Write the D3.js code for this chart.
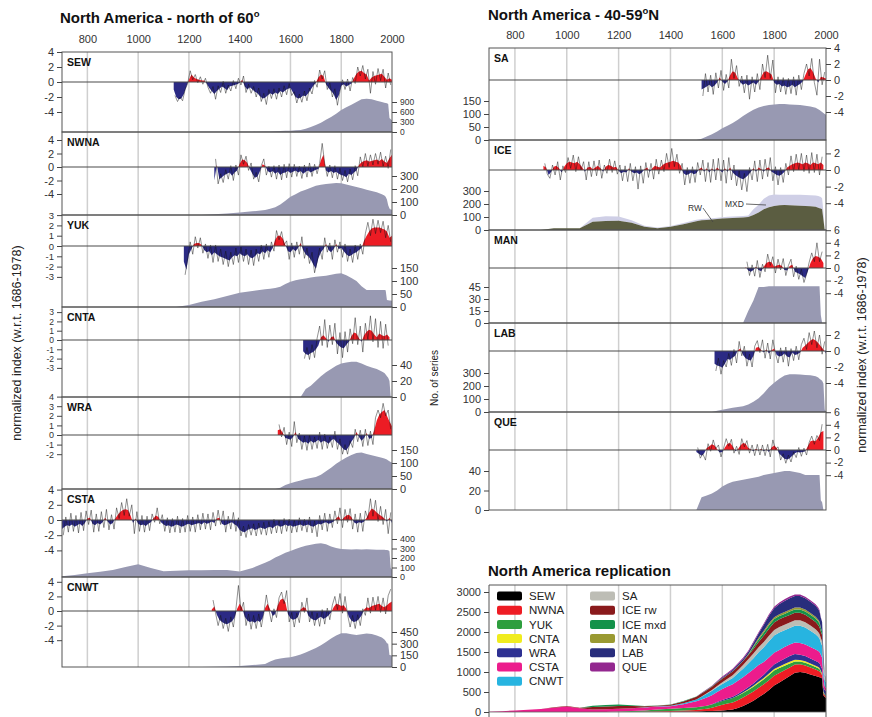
<!DOCTYPE html>
<html><head><meta charset="utf-8">
<script src="https://cdn.jsdelivr.net/npm/d3@7"></script>
<style>
body{margin:0;background:#fff;}
svg{display:block;font-family:"Liberation Sans",Arial,sans-serif;}
</style></head><body>
<svg id="chart" width="872" height="717"></svg>
<script>
// ================= DATA =================
const tickYears = [800, 1000, 1200, 1400, 1600, 1800, 2000];

// common year grid for "No. of series" counts
const countYears = [700,750,800,850,900,950,1000,1050,1100,1150,1200,1250,1300,1350,1400,1450,1500,
  1520,1540,1560,1580,1600,1620,1640,1660,1680,1700,1720,1740,1760,1780,1800,1820,1840,1860,1880,1900,1920,1940,1960,
  1970,1975,1980,1985,1990,1995,2000];

// ---- SEW ----
const sewStart = 1140; // smooth: every 10 yrs from start; raw: every 10 yrs from start+5
const sewSmooth = [-1.0,-2.0,-2.3,-2.2,-1.6,-0.6,
  0.3,1.0,0.6,0.4,0.3,0.2,0.2,-0.2,-0.8,-1.2,
  -1.6,-1.2,-0.9,-0.6,-0.8,-1.1,-0.6,-0.5,-0.4,-0.3,
  -0.1,0.3,-0.6,-1.0,-0.7,-1.0,-1.3,-1.5,-1.9,-2.2,
  -2.1,-1.8,-1.5,-1.7,-1.4,-1.6,-1.2,-1.4,-1.1,-0.9,
  -0.8,-1.4,-2.0,-2.2,-2.1,-1.8,-1.9,-1.5,-1.0,-0.5,
  -0.1,0.6,1.0,0.8,-0.3,-0.8,-1.2,-1.6,-2.4,-1.8,
  -0.5,-0.3,-0.6,-0.4,-0.2,0.5,1.1,1.4,1.5,1.2,
  1.0,0.2,0.6,0.8,0.9,1.0,1.1,0.7,0.3,0.5,0.3];
const sewRaw = [-1.8,-2.6,-2.0,-2.5,-1.0,-0.2,
  1.5,0.3,1.0,-0.1,0.7,-0.3,0.5,-0.7,-1.5,-0.6,
  -2.3,-0.5,-1.4,0.1,-1.5,-0.4,-1.2,0.2,-0.9,0.5,
  -0.4,0.8,-1.4,-0.3,-1.5,-0.6,-2.0,-0.8,-2.6,-1.5,
  -3.0,-1.0,-2.2,-0.9,-2.3,-0.8,-2.0,-0.5,-1.7,-0.2,
  -1.8,-1.3,-2.8,-1.6,-2.7,-1.2,-2.5,-0.8,-1.6,0.2,
  -0.7,1.6,0.4,1.5,-1.0,-0.1,-2.0,-0.9,-3.1,-1.2,
  0.3,-1.0,0.4,-1.2,0.6,-0.2,2.0,0.8,2.2,0.4,
  1.7,-1.5,1.4,-0.3,1.8,0.2,1.7,-0.8,1.2,-0.4];
const sewCount = [0,0,0,0,0,0,0,0,0,2,3,4,5,6,8,10,15,
  18,22,28,34,40,50,60,100,150,210,280,370,450,550,660,740,820,900,980,1000,980,940,900,
  880,870,860,840,420,380,350];

// ---- NWNA ----
const nwnaStart = 1300;
const nwnaSmooth = [-2.0,0.3,-1.8,-1.5,-1.2,-1.0,-0.8,-1.3,-0.8,-0.5,
  0.5,1.1,1.0,0.6,-0.3,-1.0,-1.6,-1.4,-0.6,0.4,
  0.2,-0.6,-0.8,-0.6,-1.0,-0.7,-1.2,-0.9,-0.8,-0.6,
  -0.9,-0.7,-0.5,-0.8,-0.6,-1.0,-0.7,-0.5,-0.8,-0.6,
  -0.4,-0.3,1.0,1.8,-0.5,-0.8,-0.6,-0.9,-0.7,-1.0,
  -1.2,-1.3,-1.5,-1.0,-1.2,-0.8,-0.5,0.3,0.7,0.9,
  1.0,0.8,0.9,1.0,1.1,0.9,1.2,0.8,0.6,1.3,1.8];
const nwnaRaw = [1.2,-2.5,-1.0,-2.3,-0.4,-1.8,0.2,-2.0,0.3,-1.2,
  1.8,0.4,1.6,-0.5,0.6,-1.8,-0.8,-2.2,0.2,1.2,
  -1.2,0.1,-1.5,0.2,-1.8,0.3,-1.9,0.4,-1.6,0.5,
  -1.5,0.4,-1.4,0.1,-1.7,0.3,-1.5,0.6,-1.4,0.4,
  -1.0,0.5,3.5,0.5,-1.4,0.3,-1.6,0.2,-1.8,-0.2,
  -2.0,-0.5,-2.2,-0.3,-1.9,0.2,-1.3,1.5,0.0,2.0,
  0.1,1.8,0.3,2.0,0.4,2.2,0.1,1.6,-0.2,2.6];
const nwnaCount = [0,0,0,0,0,0,0,0,0,0,0,0,5,12,20,28,38,
  48,60,80,110,140,160,180,195,210,225,232,238,242,246,245,235,225,215,205,195,185,175,160,
  150,140,120,75,50,42,40];

// ---- YUK ----
const yukStart = 1180;
const yukSmooth = [-1.5,-2.3,
  -0.8,-0.3,0.2,0.3,0.3,0.1,-0.4,-0.6,-0.5,-0.9,
  -0.6,-0.8,-1.0,-1.1,-1.2,-1.3,-1.4,-1.1,-0.9,-1.0,
  -0.7,-0.9,-1.0,-0.8,-1.1,-1.2,-1.0,-0.7,-0.8,-0.5,
  -0.7,-0.4,-0.6,-0.2,0.6,1.0,1.0,0.7,0.1,-0.5,
  -0.6,-0.3,-0.5,-0.2,0.3,-0.4,-0.8,-1.0,-1.3,-1.8,
  -2.2,-1.2,-0.6,-0.3,0.2,-0.4,-0.6,-0.3,0.2,-0.3,
  -0.2,-0.5,-0.8,-1.0,-0.9,-0.7,-0.6,-0.4,-0.2,0.5,
  1.0,1.4,1.7,1.8,1.8,1.8,1.7,1.6,1.4,0.8,1.0];
const yukRaw = [-2.8,-1.2,
  0.4,-0.8,0.9,-0.2,0.8,-0.7,0.2,-1.2,0.1,-1.6,
  0.1,-1.5,-0.3,-1.8,-0.5,-2.0,-0.6,-1.8,-0.2,-1.6,
  -0.1,-1.5,-0.3,-1.8,-0.4,-1.9,-0.3,-1.5,0.1,-1.3,
  0.2,-1.1,0.4,-0.5,1.5,0.6,1.4,0.1,0.5,-1.3,
  0.3,-1.1,0.4,-0.8,0.9,-1.2,-0.2,-1.7,-0.6,-2.6,
  -1.5,-0.2,-1.3,0.8,-0.6,0.3,-1.3,0.6,-0.6,0.4,
  -1.1,0.2,-1.5,-0.3,-1.6,0.1,-1.3,0.2,-0.8,1.2,
  2.3,1.0,2.6,1.2,2.5,1.3,2.4,0.8,2.0,0.4];
const yukCount = [0,0,0,0,0,0,0,0,0,0,8,20,30,42,55,62,68,
  70,73,78,88,97,103,107,110,113,116,118,120,124,128,130,122,112,100,80,65,65,65,65,
  65,64,27,26,25,25,24];

// ---- CNTA ----
const cntaStart = 1650;
const cntaSmooth = [-1.2,-1.5,-1.6,-1.4,-1.3,
  -1.0,-0.6,0.3,0.5,0.2,-0.2,0.3,0.4,-0.3,-0.6,
  -0.8,-0.9,-0.5,-0.2,0.4,0.8,0.7,0.2,-0.2,0.5,
  0.9,1.1,1.0,0.6,0.3,0.7,0.5,0.4,0.6,0.3];
const cntaRaw = [-2.0,-0.8,-2.1,-0.5,-1.9,
  0.2,1.5,-0.6,2.2,-0.8,1.6,-0.5,1.8,-1.5,0.8,
  -1.9,0.9,-1.3,1.2,-0.4,2.4,-0.5,1.5,-1.3,1.8,
  0.0,2.6,-0.2,2.3,-0.8,2.0,-0.9,1.7,-0.6];
const cntaCount = [0,0,0,0,0,0,0,0,0,0,0,0,0,0,0,0,0,
  0,0,0,0,0,0,0,10,14,20,26,31,35,39,42,43,44,44,42,39,37,35,32,
  30,28,26,24,20,0,0];

// ---- WRA ----
const wraStart = 1550;
const wraSmooth = [0.5,0.6,0.2,-0.3,-0.4,
  -0.5,-0.2,0.3,-0.4,-0.6,-0.8,-0.7,-0.9,-0.6,-0.8,
  -0.7,-0.5,-0.8,-0.6,-0.7,-0.9,-0.6,-0.4,-0.7,-0.9,
  -1.2,-1.5,-1.6,-1.2,-0.7,-0.3,0.3,-0.2,-0.6,-0.3,
  0.2,-0.4,-0.3,0.5,1.5,2.1,2.4,2.6,2.0,1.4,0.9];
const wraRaw = [1.1,-0.2,0.8,-1.0,0.3,
  -1.2,1.4,-0.8,0.2,-1.5,-0.1,-1.6,0.0,-1.5,-0.2,
  -1.4,0.3,-1.5,0.1,-1.4,-0.2,-1.3,0.4,-1.5,-0.4,
  -2.0,-1.0,-2.0,-0.6,-1.3,0.6,-0.7,0.5,-1.2,0.6,
  -1.1,0.4,-1.0,1.8,2.6,1.8,3.3,2.0,2.6,0.6];
const wraCount = [0,0,0,0,0,0,0,0,0,0,0,0,0,0,0,0,0,
  0,0,5,15,22,28,33,38,42,46,55,68,82,97,110,121,131,138,140,135,130,125,120,
  117,115,113,110,107,104,102];

// ---- CSTA ----
const cstaStart = 700;
const cstaSmooth = [-1.2,-0.9,-0.7,-0.8,-0.6,-0.9,-0.7,-0.5,-0.8,-0.4,
  0.2,0.3,-0.5,-0.7,-0.4,-0.6,-0.3,0.3,-0.2,-0.6,
  -0.4,0.2,0.7,1.1,1.3,1.4,1.3,0.6,-0.4,0.2,
  -0.5,-0.7,-0.6,-0.8,-0.5,-0.3,0.2,0.6,0.4,-0.3,
  -0.6,-0.8,-0.7,-0.9,-0.8,-0.6,-0.7,-0.9,-0.8,-0.6,
  -0.5,-0.7,-0.6,-0.5,-0.4,-0.6,-0.3,-0.5,-0.4,-0.2,
  -0.4,0.2,0.3,-0.5,-0.7,-0.6,-0.4,-0.3,-0.6,-0.8,
  -1.3,-1.5,-1.6,-1.3,-1.2,-1.1,-1.3,-1.2,-1.0,-1.1,
  -1.2,-1.0,-0.9,-1.1,-0.8,-0.7,-0.9,-0.8,-0.6,-0.8,
  -0.7,-0.9,-0.8,-0.7,-0.6,-0.8,-0.7,-0.6,-0.8,-0.9,
  -0.7,-0.5,-0.6,-0.4,-0.3,-0.5,-0.4,-0.2,0.2,0.5,
  -0.1,0.3,0.6,0.7,0.4,-0.3,-0.5,-0.3,-0.4,-0.2,
  0.3,1.0,1.5,1.3,1.0,0.7,0.5,0.2,-0.2,0.3,-0.4];
const cstaRaw = [-2.0,0.4,-1.6,0.9,-1.5,0.6,-1.7,1.0,-1.4,1.2,
  -0.6,1.3,-1.6,0.8,-1.5,1.1,-1.0,1.4,-1.3,0.7,
  -1.2,1.6,0.2,2.3,0.6,2.8,0.5,2.0,-1.8,1.1,
  -1.5,0.6,-1.6,0.5,-1.4,0.8,-0.3,1.6,-0.5,0.7,
  -1.5,0.3,-1.7,0.2,-1.6,0.5,-1.7,0.2,-1.6,0.6,
  -1.5,0.4,-1.6,0.7,-1.3,0.9,-1.2,0.8,-1.3,1.0,
  -0.8,1.3,-0.6,1.2,-1.6,0.5,-1.2,1.0,-1.5,0.3,
  -2.1,-0.8,-2.3,-0.6,-2.0,-0.5,-2.1,-0.4,-1.9,-0.3,
  -2.0,-0.2,-1.8,0.1,-1.7,0.0,-1.8,0.2,-1.5,0.1,
  -1.7,0.0,-1.6,0.3,-1.4,0.1,-1.6,0.4,-1.7,-0.1,
  -2.2,0.6,-1.3,0.9,-1.5,0.8,-1.0,1.2,-0.5,1.6,
  -1.0,1.4,-0.3,1.5,-1.2,0.8,-1.6,0.9,-1.5,1.2,
  0.2,2.8,0.5,2.6,-0.2,1.8,-0.6,1.4,-1.8,1.0];
const cstaCount = [8,20,40,55,75,105,135,95,60,65,70,72,74,75,58,95,150,
  175,205,230,255,275,295,312,328,340,350,355,345,320,305,295,292,290,292,290,292,290,288,288,
  286,285,284,282,270,95,80];

// ---- CNWT ----
const cnwtStart = 1290;
const cnwtSmooth = [0.2,
  0.6,-0.5,-1.2,-1.5,-1.7,-1.8,-1.6,-1.4,-0.9,0.3,
  1.0,0.4,-0.8,-1.3,-1.5,-1.4,-1.6,-1.3,-1.5,-1.0,
  0.4,1.0,0.2,-0.7,-0.4,0.8,1.5,1.7,1.2,-0.4,
  -1.0,-1.2,-1.1,-0.8,0.2,0.5,0.4,-0.6,-1.0,-1.2,
  -1.3,-1.0,-0.8,-1.1,-0.9,-0.6,-0.2,0.5,1.0,0.9,
  0.7,0.8,0.3,-0.8,-1.3,-1.5,-1.4,-1.1,-0.6,0.2,
  0.5,0.4,0.7,0.8,0.9,1.0,0.7,0.5,0.8,1.1,1.3];
const cnwtRaw = [1.5,
  -0.3,-2.0,-0.6,-2.4,-1.0,-2.8,-0.8,-2.2,0.2,3.5,
  0.1,1.2,-2.0,-0.4,-2.5,-0.6,-2.4,-0.4,-2.2,-0.3,
  2.2,0.2,-1.5,0.3,-0.9,1.8,2.6,1.0,2.8,-1.5,
  -0.2,-2.2,-0.3,-1.6,1.2,-0.2,1.8,-1.5,-0.1,-2.0,
  -0.3,-2.1,0.2,-1.8,0.4,-1.2,0.8,2.0,0.2,2.4,
  -0.3,2.0,-0.5,-2.2,-0.6,-2.4,-0.5,-2.0,0.3,-0.6,
  1.8,-0.3,1.9,0.1,2.0,-0.2,1.8,-0.4,2.1,3.0];
const cnwtCount = [0,0,0,0,0,0,0,0,0,0,0,0,3,8,13,25,40,
  70,95,108,118,125,140,160,185,215,245,280,320,365,405,433,435,420,412,420,432,425,405,380,
  355,335,305,300,155,150,148];

// ---- SA ----
const saStart = 1520;
const saSmooth = [-1.2,-1.0,-0.8,-0.6,-0.9,-0.7,-0.3,0.3,
  -0.2,-0.5,-0.2,0.6,1.1,0.9,0.2,-0.3,-0.6,-0.4,
  -0.7,-0.5,-0.3,-0.6,-0.2,0.4,1.0,1.1,0.9,0.7,
  -0.3,-0.6,-0.5,-0.8,-0.7,-0.9,-0.8,-0.6,-0.9,-0.7,
  -0.5,-0.2,0.6,1.3,1.5,1.0,0.2,-0.3,0.4,0.3,0.2];
const saRaw = [-2.0,0.8,-1.5,0.6,-1.8,0.9,-1.0,1.2,
  -1.3,0.7,-1.0,2.6,0.2,1.8,-0.8,0.5,-1.6,0.6,
  -2.4,0.4,-1.5,0.8,-1.2,2.0,0.3,3.1,0.2,2.5,
  -1.6,0.4,-1.5,0.3,-1.8,0.2,-1.7,0.4,-1.9,0.6,
  -1.2,0.8,2.0,0.5,2.7,-0.3,-1.9,2.6,-0.6,1.0];
const saCount = [0,0,0,0,0,0,0,0,0,0,0,0,0,0,0,0,0,
  5,13,22,33,45,55,65,78,92,105,116,125,131,135,137,138,138,137,136,135,132,129,124,
  118,115,112,108,104,100,97];

// ---- ICE ----
const iceStart = 910;
const iceSmooth = [0.5,0.3,-0.6,-0.2,0.4,0.5,0.2,-0.3,0.4,
  0.8,1.0,0.9,0.8,1.0,0.7,0.3,-0.2,0.3,0.4,
  0.1,0.3,0.5,0.2,-0.2,0.4,0.6,0.5,0.3,0.4,
  -0.1,-0.4,-0.2,-0.3,0.2,-0.2,-0.4,-0.3,-0.5,-0.3,
  0.1,0.3,-0.2,0.2,0.5,0.4,0.3,0.6,0.8,0.9,
  1.0,1.1,1.0,0.9,0.5,-0.4,-0.6,-0.5,-0.3,-0.5,
  -0.4,0.1,0.3,-0.2,0.2,-0.3,0.2,-0.2,0.3,0.0,
  -0.3,0.2,-0.2,0.3,-0.3,-0.6,-0.8,-1.0,-1.1,-0.9,
  -0.6,-0.2,0.2,-0.2,0.3,0.1,-0.2,0.2,0.3,-0.2,
  -0.4,-0.6,-0.7,-0.5,-0.2,0.3,0.5,0.7,0.8,0.9,
  0.8,0.7,0.9,0.8,0.6,0.9,0.8,0.7,0.9,0.6];
const iceRaw = [0.8,-0.5,-1.0,0.6,-0.6,1.0,-1.2,0.5,-0.3,
  1.5,0.2,1.8,-0.2,1.6,0.0,1.0,-1.2,1.0,-0.8,
  1.1,-0.7,1.2,-1.0,0.6,-0.4,1.3,-0.3,1.1,-0.5,
  0.6,-1.3,0.5,-1.4,0.8,-1.3,0.4,-2.3,0.5,-1.6,
  0.9,-0.9,0.8,-1.1,1.3,-0.5,1.2,-0.2,2.0,0.3,
  2.6,0.4,1.9,-0.4,0.8,-1.8,0.3,-1.6,0.4,-1.5,
  0.9,-0.6,1.2,-1.4,0.9,-1.5,1.3,-1.2,1.4,-1.3,
  1.2,-1.6,1.5,-1.2,0.6,-1.9,-0.1,-2.4,-0.4,-2.6,
  0.3,-1.2,1.1,-1.4,1.2,-1.1,1.3,-0.8,1.5,-1.3,
  0.4,-1.8,0.3,-1.5,0.8,-0.6,1.7,-0.2,1.9,0.0,
  2.0,-0.2,1.8,-0.4,2.1,-0.3,1.9,-0.6,1.6];
const iceRwCount = [0,0,0,0,0,13,13,14,64,70,72,55,25,14,25,45,68,
  75,77,80,85,89,91,93,95,96,100,115,135,160,175,185,190,192,190,188,186,185,182,178,
  172,168,165,160,80,0,0];
const iceMxdCount = [0,0,0,0,0,0,0,0,30,35,32,20,8,6,6,8,10,
  10,10,10,10,10,10,10,11,11,12,45,60,80,90,88,82,80,82,84,86,85,86,88,
  90,90,88,85,60,0,0];

// ---- MAN ----
const manStart = 1690;
const manSmooth = [0.2,
  -0.4,-0.6,-0.3,0.2,-0.3,-0.5,0.2,0.8,1.0,0.9,
  0.2,0.4,0.5,0.3,-0.3,-0.4,0.3,0.5,-0.6,-0.8,
  -1.0,-1.3,-1.6,-0.5,0.8,1.6,1.9,1.8,1.5,0.8];
const manRaw = [1.0,
  -1.2,0.5,-1.3,1.2,-1.5,0.6,-0.6,2.2,0.4,1.8,
  -0.8,1.4,-0.3,1.5,-1.2,0.4,1.4,-1.4,0.3,-1.8,
  -0.2,-2.3,-1.0,0.9,2.4,1.0,4.0,1.0,2.6];
const manCount = [0,0,0,0,0,0,0,0,0,0,0,0,0,0,0,0,0,
  0,0,0,0,0,0,0,0,0,15,28,45,45,46,46,46,46,46,46,46,46,46,46,
  46,46,10,0,0,0,0];

// ---- LAB ----
const labStart = 1570;
const labSmooth = [-1.6,-1.8,-1.9,
  -2.1,-1.6,-1.0,-1.1,-0.8,-0.6,0.1,0.3,-0.5,-0.9,
  -1.1,-1.2,-0.6,0.4,0.5,0.1,-0.2,0.2,-0.3,0.1,
  0.3,-0.5,-0.7,-0.6,-0.3,-0.7,-0.8,-0.2,-0.5,-0.4,
  -0.2,0.4,0.7,1.0,1.3,1.5,1.3,1.0,0.6,0.2,-0.3];
const labRaw = [-2.5,-0.9,-2.9,
  -1.2,-2.0,-0.3,-1.8,0.2,-1.5,1.2,-0.6,0.6,-1.9,
  -0.4,-2.0,0.6,1.3,-0.2,1.4,-0.9,1.0,-1.0,1.4,
  -0.3,-1.5,0.4,-1.4,0.5,-1.9,0.3,-1.2,0.6,-1.1,
  0.8,1.6,0.2,2.3,0.8,2.5,0.4,2.0,-0.4,1.2];
const labCount = [0,0,0,0,0,0,0,0,0,0,0,0,0,0,0,0,0,
  0,0,0,10,18,25,32,38,45,58,78,105,145,190,225,255,280,290,290,288,285,282,275,
  265,255,248,240,220,20,0];

// ---- QUE ----
const queStart = 1500;
const queSmooth = [-0.3,-0.6,-0.9,-0.5,0.3,0.6,0.9,0.7,0.1,-0.4,
  -0.3,0.4,1.0,1.1,0.6,-0.2,0.1,0.7,1.1,1.0,
  0.3,0.1,-0.2,0.2,-0.1,0.2,-0.2,0.1,-0.3,0.4,
  0.7,0.3,-0.6,-1.0,-1.4,-1.5,-1.3,-0.9,-0.5,-0.3,
  -0.4,-0.3,-0.2,0.6,1.4,1.5,1.4,2.0,2.8,3.0];
const queRaw = [0.4,-1.3,-0.6,-1.6,1.0,-0.2,1.6,0.2,0.8,-1.1,
  0.3,1.8,0.6,1.7,-0.5,0.6,-0.7,1.8,0.5,1.5,
  -0.5,0.8,-0.9,0.9,-0.8,0.8,-0.9,0.9,-1.1,1.6,
  0.1,0.5,-1.6,-0.6,-2.1,-0.8,-1.9,-0.3,-1.2,0.4,
  -1.0,0.3,-0.8,1.2,2.2,0.9,2.3,1.5,4.1];
const queCount = [0,0,0,0,0,0,0,0,0,0,0,0,0,0,0,0,0,
  13,15,17,20,24,27,29,30,31,32,33,34,36,37,38,39,40,40,39,38,36,36,36,
  36,36,10,8,0,0,0];

// replication stack
const repKeys = ["SEW","NWNA","YUK","CNTA","WRA","CSTA","CNWT","SA","ICE rw","ICE mxd","MAN","LAB","QUE"];
const repSeries = [sewCount,nwnaCount,yukCount,cntaCount,wraCount,cstaCount,cnwtCount,saCount,iceRwCount,iceMxdCount,manCount,labCount,queCount];
const repColors = ["#000000","#ee1c24","#2e9e3e","#f0ec1e","#2e3192","#ec1c8c","#27b4e0","#bdbdb5","#8a1a1c","#13924a","#9a9a32","#282d7c","#93278f"];
const repTicks = [0,500,1000,1500,2000,2500,3000];

// ================= DRAWING =================
const C = {red:"#ec1c24", blue:"#2b2a84", cnt:"#9899b2", line:"#141414", grid:"#cfcfcf",
  frame:"#555", zero:"#4a4a4a", rw:"#5b5d41", mxd:"#cfcfe6"};
const FONT = "'Liberation Sans', Arial, sans-serif";
const svg = d3.select("#chart");
const defs = svg.append("defs");
const fmt = d => String(d);

const xL = d3.scaleLinear().domain([700, 2000]).range([62, 392]);
const xR = d3.scaleLinear().domain([700, 2000]).range([489, 826]);

const leftPanels = [
  {name:"SEW", start:sewStart, smooth:sewSmooth, raw:sewRaw, count:sewCount, top:52, bottom:132, zero:82, unit:7.5, idxTicks:[4,2,0,-2,-4], cntPer:10/300, cntTicks:[0,300,600,900], cntFont:8.5},
  {name:"NWNA", start:nwnaStart, smooth:nwnaSmooth, raw:nwnaRaw, count:nwnaCount, top:132, bottom:215, zero:167, unit:6.75, idxTicks:[4,2,0,-2,-4], cntPer:0.13, cntTicks:[0,100,200,300]},
  {name:"YUK", start:yukStart, smooth:yukSmooth, raw:yukRaw, count:yukCount, top:215, bottom:307, zero:246, unit:10.3, idxTicks:[3,2,1,0,-1,-2,-3], idxFont:9.5, cntPer:0.26, cntTicks:[0,50,100,150]},
  {name:"CNTA", start:cntaStart, smooth:cntaSmooth, raw:cntaRaw, count:cntaCount, top:307, bottom:397, zero:340, unit:9.3, idxTicks:[3,2,1,0,-1,-2,-3], idxFont:8.5, cntPer:0.8, cntTicks:[0,20,40]},
  {name:"WRA", start:wraStart, smooth:wraSmooth, raw:wraRaw, count:wraCount, top:397, bottom:489, zero:435, unit:9.6, idxTicks:[4,3,2,1,0,-1,-2], idxFont:9, cntPer:0.26, cntTicks:[0,50,100,150]},
  {name:"CSTA", start:cstaStart, smooth:cstaSmooth, raw:cstaRaw, count:cstaCount, top:489, bottom:577, zero:520, unit:7.6, idxTicks:[4,2,0,-2,-4], cntPer:0.095, cntTicks:[0,100,200,300,400], cntFont:9},
  {name:"CNWT", start:cnwtStart, smooth:cnwtSmooth, raw:cnwtRaw, count:cnwtCount, top:577, bottom:667, zero:611, unit:7.3, idxTicks:[4,2,0,-2,-4], cntPer:35/450, cntTicks:[0,150,300,450]}
];
const rightPanels = [
  {name:"SA", start:saStart, smooth:saSmooth, raw:saRaw, count:saCount, top:48, bottom:140, zero:80, unit:8, idxTicks:[4,2,0,-2,-4], cntPer:0.26, cntTicks:[0,50,100,150]},
  {name:"ICE", start:iceStart, smooth:iceSmooth, raw:iceRaw, count:iceRwCount, count2:iceMxdCount, top:140, bottom:230, zero:170, unit:8.3, idxTicks:[2,0,-2,-4], cntPer:0.13, cntTicks:[0,100,200,300]},
  {name:"MAN", start:manStart, smooth:manSmooth, raw:manRaw, count:manCount, top:230, bottom:323, zero:268, unit:6.3, idxTicks:[6,4,2,0,-2,-4], idxFont:10.5, cntPer:0.8, cntTicks:[0,15,30,45]},
  {name:"LAB", start:labStart, smooth:labSmooth, raw:labRaw, count:labCount, top:323, bottom:412, zero:351, unit:8, idxTicks:[2,0,-2,-4], cntPer:0.13, cntTicks:[0,100,200,300]},
  {name:"QUE", start:queStart, smooth:queSmooth, raw:queRaw, count:queCount, top:412, bottom:510, zero:450, unit:6.3, idxTicks:[6,4,2,0,-2,-4], idxFont:10.5, cntPer:0.975, cntTicks:[0,20,40]}
];

function styleAxis(g, size) {
  g.select(".domain").remove();
  g.attr("font-family", FONT).attr("font-size", size || 11);
  g.selectAll(".tick line").attr("stroke", "#444");
  g.selectAll(".tick text").attr("fill", "#333");
}

let clipN = 0;
function drawPanel(p, x, side) {
  const x0 = x.range()[0], x1 = x.range()[1];
  const g = svg.append("g");
  const yI = d3.scaleLinear().domain([0, 1]).range([p.zero, p.zero - p.unit]);
  const yC = d3.scaleLinear().domain([0, 1]).range([p.bottom, p.bottom - p.cntPer]);
  const band = d3.area().x(d => x(d.year)).y0(d => yC(d.lo)).y1(d => yC(d.hi));

  // number of series
  if (p.count2) {
    const mx = countYears.map((yr, i) => ({year: yr, lo: p.count[i], hi: p.count[i] + p.count2[i]}));
    g.append("path").attr("d", band(mx)).attr("fill", C.mxd);
    const rw = countYears.map((yr, i) => ({year: yr, lo: 0, hi: p.count[i]}));
    g.append("path").attr("d", band(rw)).attr("fill", C.rw);
  } else {
    const rows = countYears.map((yr, i) => ({year: yr, lo: 0, hi: p.count[i]}));
    g.append("path").attr("d", band(rows)).attr("fill", C.cnt);
  }

  // clips above / below zero
  const idA = "clipA" + (clipN), idB = "clipB" + (clipN++);
  defs.append("clipPath").attr("id", idA).append("rect")
    .attr("x", x0).attr("y", p.top).attr("width", x1 - x0).attr("height", p.zero - p.top);
  defs.append("clipPath").attr("id", idB).append("rect")
    .attr("x", x0).attr("y", p.zero).attr("width", x1 - x0).attr("height", p.bottom - p.zero);

  const sm = p.smooth.map((v, i) => [p.start + 10 * i, v]);
  const fillArea = d3.area().x(d => x(d[0])).y0(yI(0)).y1(d => yI(d[1]));
  g.append("path").datum(sm).attr("d", fillArea).attr("fill", C.red).attr("clip-path", `url(#${idA})`);
  g.append("path").datum(sm).attr("d", fillArea).attr("fill", C.blue).attr("clip-path", `url(#${idB})`);

  const rw = p.raw.map((v, i) => [p.start + 5 + 10 * i, v]);
  const ln = d3.line().x(d => x(d[0])).y(d => yI(d[1]));
  g.append("path").datum(rw).attr("d", ln).attr("fill", "none")
    .attr("stroke", C.line).attr("stroke-width", 0.55).attr("stroke-opacity", 0.85)
    .attr("stroke-linejoin", "round");

  // zero line
  g.append("line").attr("x1", x0).attr("x2", x1).attr("y1", yI(0)).attr("y2", yI(0))
    .attr("stroke", C.zero).attr("stroke-width", 1.2);
  // frame
  g.append("rect").attr("x", x0).attr("y", p.top).attr("width", x1 - x0).attr("height", p.bottom - p.top)
    .attr("fill", "none").attr("stroke", C.frame).attr("stroke-width", 1);
  // label
  g.append("text").attr("x", x0 + 5).attr("y", p.top + 14).text(p.name)
    .attr("font-family", FONT).attr("font-weight", "bold").attr("font-size", 10.5).attr("fill", "#111");

  // axes
  const idxAxis = (side === "L" ? d3.axisLeft(yI) : d3.axisRight(yI))
    .tickValues(p.idxTicks).tickSize(5).tickPadding(3).tickFormat(fmt);
  const cntAxis = (side === "L" ? d3.axisRight(yC) : d3.axisLeft(yC))
    .tickValues(p.cntTicks).tickSize(5).tickPadding(3).tickFormat(fmt);
  g.append("g").attr("transform", `translate(${side === "L" ? x0 : x1},0)`).call(idxAxis).call(styleAxis, p.idxFont);
  g.append("g").attr("transform", `translate(${side === "L" ? x1 : x0},0)`).call(cntAxis).call(styleAxis, p.cntFont);
}

function drawColumn(panels, x, side) {
  const top = panels[0].top, bottom = panels[panels.length - 1].bottom;
  svg.append("g").selectAll("line").data(tickYears.filter(y => y < 2000)).join("line")
    .attr("x1", d => x(d)).attr("x2", d => x(d)).attr("y1", top).attr("y2", bottom)
    .attr("stroke", C.grid).attr("stroke-width", 1.5);
  panels.forEach(p => drawPanel(p, x, side));
  svg.append("g").attr("transform", `translate(0,${top})`)
    .call(d3.axisTop(x).tickValues(tickYears).tickSize(0).tickPadding(9).tickFormat(fmt))
    .call(styleAxis);
}

drawColumn(leftPanels, xL, "L");
drawColumn(rightPanels, xR, "R");

// ICE annotations
const iceG = svg.append("g").attr("font-family", FONT).attr("font-size", 8.5).attr("fill", "#333");
iceG.append("text").attr("x", 688).attr("y", 211).text("RW");
iceG.append("line").attr("x1", 703).attr("y1", 208).attr("x2", 713).attr("y2", 222).attr("stroke", "#444").attr("stroke-width", 0.8);
iceG.append("text").attr("x", 725).attr("y", 207).text("MXD");
iceG.append("line").attr("x1", 746).attr("y1", 204).attr("x2", 766).attr("y2", 205).attr("stroke", "#444").attr("stroke-width", 0.8);

// titles
function title(x, y, main, sup, tail) {
  const t = svg.append("text").attr("x", x).attr("y", y).attr("font-family", FONT)
    .attr("font-weight", "bold").attr("font-size", 15).attr("fill", "#111");
  t.append("tspan").text(main);
  if (sup) {
    t.append("tspan").attr("dy", -6).attr("font-size", 9.5).text(sup);
    if (tail) t.append("tspan").attr("dy", 6).text(tail);
  }
}
title(60, 23, "North America - north of 60", "o", null);
title(488, 20, "North America - 40-59", "o", "N");
title(488, 576, "North America replication", null, null);

// axis titles
svg.append("text").attr("transform", "translate(17,343) rotate(-90)").attr("text-anchor", "middle")
  .attr("dy", "0.35em").attr("font-family", FONT).attr("font-size", 12.5).attr("fill", "#222")
  .text("normalized index (w.r.t. 1686-1978)");
svg.append("text").attr("transform", "translate(862,355) rotate(-90)").attr("text-anchor", "middle")
  .attr("dy", "0.35em").attr("font-family", FONT).attr("font-size", 12.5).attr("fill", "#222")
  .text("normalized index (w.r.t. 1686-1978)");
svg.append("text").attr("transform", "translate(434,378) rotate(-90)").attr("text-anchor", "middle")
  .attr("dy", "0.35em").attr("font-family", FONT).attr("font-size", 10).attr("fill", "#222")
  .text("No. of series");

// ================= REPLICATION =================
const repTop = 585, repBottom = 712;
const yR = d3.scaleLinear().domain([0, 3000]).range([repBottom, 592]);
const repG = svg.append("g");
repG.selectAll("line.grid").data(tickYears.filter(y => y < 2000)).join("line")
  .attr("x1", d => xR(d)).attr("x2", d => xR(d)).attr("y1", repTop).attr("y2", 717)
  .attr("stroke", C.grid).attr("stroke-width", 1.5);
defs.append("clipPath").attr("id", "repClip").append("rect")
  .attr("x", 489).attr("y", repTop).attr("width", 826 - 489).attr("height", 717 - repTop);
const repRows = countYears.map((yr, i) => {
  const o = {year: yr};
  repKeys.forEach((k, j) => { o[k] = repSeries[j][i]; });
  return o;
});
const stacked = d3.stack().keys(repKeys)(repRows);
const repArea = d3.area().x(d => xR(d.data.year)).y0(d => yR(d[0])).y1(d => yR(d[1]));
repG.append("g").attr("clip-path", "url(#repClip)").selectAll("path").data(stacked).join("path")
  .attr("d", repArea).attr("fill", (d, i) => repColors[i]);
repG.append("path").attr("d", `M489,717V${repTop}H826V717`).attr("fill", "none").attr("stroke", C.frame);
repG.append("line").attr("x1", 489).attr("x2", 826).attr("y1", repBottom).attr("y2", repBottom)
  .attr("stroke", "#666").attr("stroke-width", 0.8);
repG.append("g").attr("transform", "translate(489,0)")
  .call(d3.axisLeft(yR).tickValues(repTicks).tickSize(5).tickPadding(3).tickFormat(fmt))
  .call(styleAxis);

// legend
const leg = svg.append("g").attr("font-family", FONT).attr("font-size", 11.5).attr("fill", "#222");
repKeys.forEach((k, i) => {
  const col = i < 7 ? 0 : 1, row = i < 7 ? i : i - 7;
  const lx = col === 0 ? 497 : 590, ly = 596 + row * 14.2;
  leg.append("rect").attr("x", lx).attr("y", ly - 4.5).attr("width", 25).attr("height", 9)
    .attr("rx", 2).attr("fill", repColors[i]);
  leg.append("text").attr("x", lx + 32).attr("y", ly).attr("dy", "0.36em").text(k);
});
</script>
</body></html>
